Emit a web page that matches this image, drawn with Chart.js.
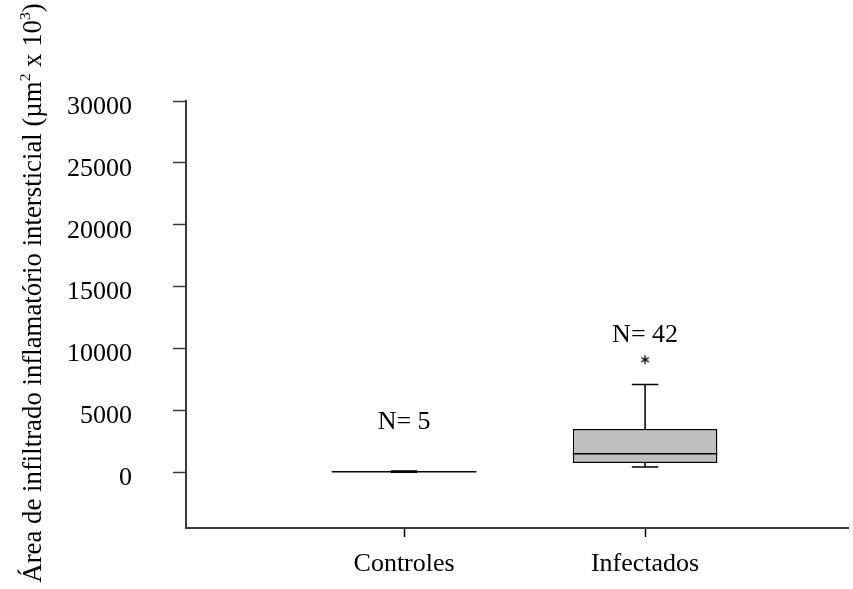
<!DOCTYPE html>
<html>
<head>
<meta charset="utf-8">
<script src="https://cdn.jsdelivr.net/npm/chart.js@4/dist/chart.umd.min.js"></script>
<style>
  html, body { margin: 0; padding: 0; background: #ffffff; }
  canvas { display: block; }
</style>
</head>
<body>
<canvas id="chart" width="853" height="589"></canvas>
<script>
// Box-plot summary per group
const categories     = ['Controles', 'Infectados'];
const sampleSizes    = [5, 42];
const lowerWhisker   = [0, 430];
const firstQuartile  = [30, 750];
const medians        = [50, 1500];
const thirdQuartile  = [70, 3500];
const upperWhisker   = [100, 7100];
const extremeValues  = [[], [9100]];
const yTickValues    = [0, 5000, 10000, 15000, 20000, 25000, 30000];

const FONT = "'Liberation Serif', 'Times New Roman', serif";
const BOX_WIDTH = 0.6;   // in x-axis units
const CAP_WIDTH = 0.11;  // in x-axis units
const positions = categories.map((_, i) => i + 1);

// Boxes as floating bars from Q1 to Q3
const boxData = positions.map((x, i) => ({ x, y: [firstQuartile[i], thirdQuartile[i]] }));

// Whiskers, caps and medians as separate line segments (null breaks the path)
const strokeData = [];
function segment(x1, y1, x2, y2) {
  strokeData.push({ x: x1, y: y1 }, { x: x2, y: y2 }, { x: x2, y: null });
}
positions.forEach((c, i) => {
  segment(c, lowerWhisker[i], c, firstQuartile[i]);
  segment(c, thirdQuartile[i], c, upperWhisker[i]);
  segment(c - CAP_WIDTH / 2, lowerWhisker[i], c + CAP_WIDTH / 2, lowerWhisker[i]);
  segment(c - CAP_WIDTH / 2, upperWhisker[i], c + CAP_WIDTH / 2, upperWhisker[i]);
  segment(c - BOX_WIDTH / 2, medians[i], c + BOX_WIDTH / 2, medians[i]);
});

// Extreme values marked with an asterisk
const extremeData = [];
positions.forEach((c, i) => extremeValues[i].forEach(v => extremeData.push({ x: c, y: v })));

function asteriskGlyph() {
  const cv = document.createElement('canvas');
  cv.width = 12; cv.height = 12;
  const g = cv.getContext('2d');
  g.strokeStyle = '#000';
  g.lineWidth = 1.3;
  g.translate(6, 6);
  for (let k = 0; k < 3; k++) {
    const a = Math.PI / 2 + k * Math.PI / 3;
    g.beginPath();
    g.moveTo(4.6 * Math.cos(a), 4.6 * Math.sin(a));
    g.lineTo(-4.6 * Math.cos(a), -4.6 * Math.sin(a));
    g.stroke();
  }
  return cv;
}

// "N= n" above each upper whisker
const sampleSizeLabels = {
  id: 'sampleSizeLabels',
  afterDatasetsDraw(chart) {
    const { ctx, scales: { x, y } } = chart;
    ctx.save();
    ctx.font = '26px ' + FONT;
    ctx.fillStyle = '#000';
    ctx.textAlign = 'center';
    ctx.textBaseline = 'middle';
    positions.forEach((c, i) => {
      ctx.fillText('N= ' + sampleSizes[i], x.getPixelForValue(c), y.getPixelForValue(upperWhisker[i]) - 49);
    });
    ctx.restore();
  }
};

// Vertical axis title with superscripts
const yTitle = {
  id: 'yTitle',
  afterDraw(chart) {
    const { ctx } = chart;
    const parts = [
      { t: 'Área de infiltrado inflamatório intersticial (µm', sup: false },
      { t: '2', sup: true },
      { t: ' x 10', sup: false },
      { t: '3', sup: true },
      { t: ')', sup: false }
    ];
    const big = '26.8px ' + FONT, small = '15.5px ' + FONT;
    ctx.save();
    ctx.fillStyle = '#000';
    ctx.textBaseline = 'alphabetic';
    ctx.textAlign = 'left';
    let total = 0;
    parts.forEach(p => { ctx.font = p.sup ? small : big; p.w = ctx.measureText(p.t).width; total += p.w; });
    ctx.translate(41, 293);
    ctx.rotate(-Math.PI / 2);
    let cx = -total / 2;
    parts.forEach(p => {
      ctx.font = p.sup ? small : big;
      ctx.fillText(p.t, cx, p.sup ? -11 : 0);
      cx += p.w;
    });
    ctx.restore();
  }
};

new Chart(document.getElementById('chart'), {
  type: 'bar',
  data: {
    datasets: [
      {
        type: 'bar',
        data: boxData,
        backgroundColor: '#c0c0c0',
        borderColor: '#000',
        borderWidth: 1.5,
        borderSkipped: false,
        barPercentage: BOX_WIDTH,
        categoryPercentage: 1,
        order: 3
      },
      {
        type: 'line',
        data: strokeData,
        borderColor: '#000',
        borderWidth: 1.5,
        pointRadius: 0,
        spanGaps: false,
        fill: false,
        tension: 0,
        order: 1
      },
      {
        type: 'scatter',
        data: extremeData,
        pointStyle: asteriskGlyph(),
        showLine: false,
        order: 0
      }
    ]
  },
  options: {
    responsive: false,
    animation: false,
    devicePixelRatio: 1,
    layout: { padding: { top: 101, right: 0, bottom: 0, left: 0 } },
    plugins: { legend: { display: false }, tooltip: { enabled: false } },
    scales: {
      x: {
        type: 'linear',
        bounds: 'data',
        offset: false,
        min: 0.095,
        max: 2.842,
        afterBuildTicks: s => { s.ticks = positions.map(v => ({ value: v })); },
        afterFit: s => { s.height = 61; },
        ticks: {
          callback: v => categories[positions.indexOf(v)] || '',
          font: { family: FONT, size: 26 },
          color: '#000',
          padding: 12,
          autoSkip: false,
          maxRotation: 0
        },
        grid: { offset: false, drawOnChartArea: false, drawTicks: true, tickLength: 9, tickColor: '#000', tickWidth: 1.5 },
        border: { color: '#3a3a3a', width: 2 }
      },
      y: {
        type: 'linear',
        bounds: 'data',
        min: -4500,
        max: 30000,
        afterBuildTicks: s => { s.ticks = yTickValues.map(v => ({ value: v })); },
        afterFit: s => { s.width = 186; },
        ticks: {
          callback: v => String(v),
          font: { family: FONT, size: 26 },
          color: '#000',
          padding: 41,
          labelOffset: 6
        },
        grid: { drawOnChartArea: false, drawTicks: true, tickLength: 13, tickColor: '#3a3a3a', tickWidth: 1.5 },
        border: { color: '#3a3a3a', width: 2 }
      }
    }
  },
  plugins: [sampleSizeLabels, yTitle]
});
</script>
</body>
</html>
